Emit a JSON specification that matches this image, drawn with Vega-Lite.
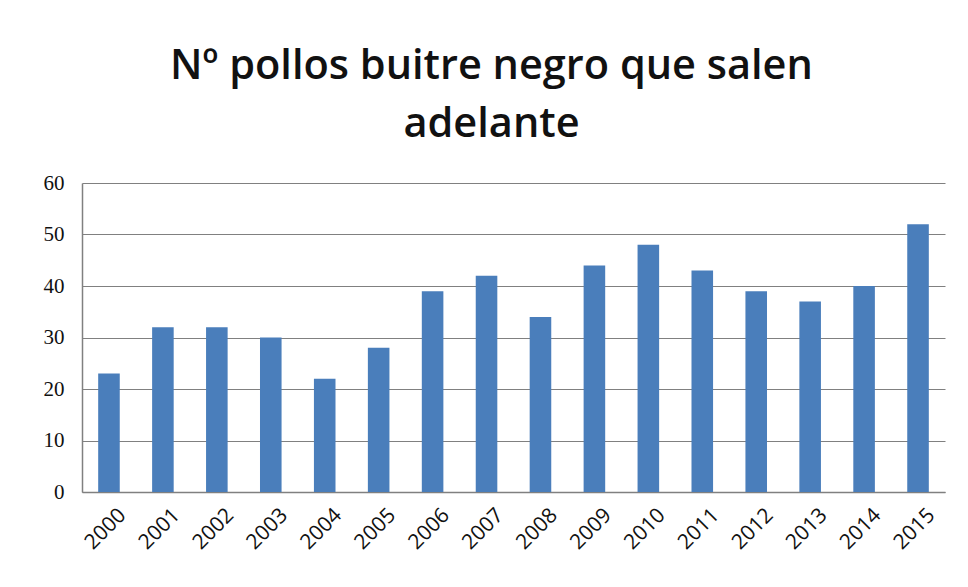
{
  "$schema": "https://vega.github.io/schema/vega-lite/v6.json",
  "autosize": "none",
  "width": 863,
  "height": 309,
  "padding": {"left": 82, "top": 183, "right": 23, "bottom": 95},
  "background": "white",
  "title": {
    "text": ["Nº pollos buitre negro que salen", "adelante"],
    "font": "Open Sans",
    "fontSize": 41.5,
    "fontWeight": 600,
    "color": "#111111",
    "anchor": "middle",
    "dx": -22,
    "offset": 27,
    "lineHeight": 58
  },
  "data": {
    "values": [
      {"year": "2000", "n": 23},
      {"year": "2001", "n": 32},
      {"year": "2002", "n": 32},
      {"year": "2003", "n": 30},
      {"year": "2004", "n": 22},
      {"year": "2005", "n": 28},
      {"year": "2006", "n": 39},
      {"year": "2007", "n": 42},
      {"year": "2008", "n": 34},
      {"year": "2009", "n": 44},
      {"year": "2010", "n": 48},
      {"year": "2011", "n": 43},
      {"year": "2012", "n": 39},
      {"year": "2013", "n": 37},
      {"year": "2014", "n": 40},
      {"year": "2015", "n": 52}
    ]
  },
  "mark": {"type": "bar", "color": "#4a7ebb"},
  "encoding": {
    "x": {
      "field": "year",
      "type": "ordinal",
      "scale": {"paddingInner": 0.6, "paddingOuter": 0.3},
      "axis": {
        "title": null,
        "labelAngle": -45,
        "labelFont": "Open Sans",
        "labelFontSize": 21,
        "labelColor": "#111111",
        "labelOffset": 6,
        "labelPadding": 12,
        "ticks": false,
        "domainColor": "#808080",
        "domainWidth": 1.5,
        "grid": false
      }
    },
    "y": {
      "field": "n",
      "type": "quantitative",
      "scale": {"domain": [0, 60]},
      "axis": {
        "title": null,
        "values": [0, 10, 20, 30, 40, 50, 60],
        "labelFont": "Liberation Serif",
        "labelFontSize": 21,
        "labelColor": "#111111",
        "labelPadding": 18,
        "ticks": false,
        "domainColor": "#808080",
        "domainWidth": 1.5,
        "gridColor": "#808080",
        "gridWidth": 1.2
      }
    }
  },
  "config": {"view": {"stroke": null}}
}
